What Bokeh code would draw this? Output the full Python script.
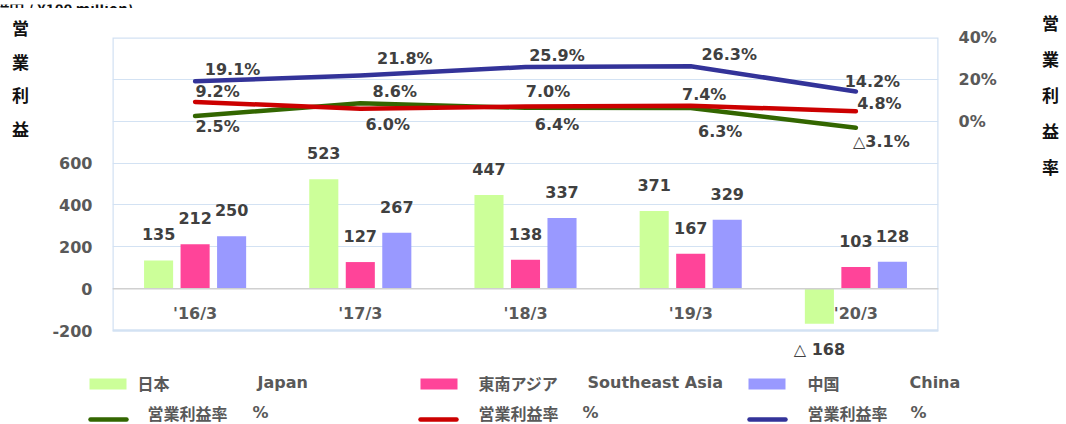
from bokeh.plotting import figure
from bokeh.models import (ColumnDataSource, Range1d, LinearAxis, FixedTicker, LabelSet,
                          Span, PrintfTickFormatter, BoxAnnotation)
from bokeh.transform import dodge
from bokeh.layouts import column, row
from bokeh.embed import file_html
from bokeh.resources import INLINE
from bokeh.core.properties import value

# ---------------- data ----------------
periods = ["'16/3", "'17/3", "'18/3", "'19/3", "'20/3"]
japan_profit = [135, 523, 447, 371, -168]
sea_profit = [212, 127, 138, 167, 103]
china_profit = [250, 267, 337, 329, 128]
japan_margin = [2.5, 8.6, 6.4, 6.3, -3.1]
sea_margin = [9.2, 6.0, 7.0, 7.4, 4.8]
china_margin = [19.1, 21.8, 25.9, 26.3, 14.2]
left_ticks = [-200, 0, 200, 400, 600]
right_ticks = [0, 20, 40]
grid_ticks = [-200, 0, 200, 400, 600, 800, 1000, 1200]
left_title = "営業利益"
right_title = "営業利益率"
unit_note = "(単位：億円 / ¥100 million)"
legend_jp = ["日本", "東南アジア", "中国"]
legend_en = ["Japan", "Southeast Asia", "China"]
legend_line = "営業利益率"

# ---------------- styles / layout constants (pixels) ----------------
C_JP_BAR, C_SEA_BAR, C_CN_BAR = "#ccff99", "#ff4499", "#9999ff"
C_JP_LINE, C_SEA_LINE, C_CN_LINE = "#336600", "#cc0000", "#333399"
TXT_DARK, TXT_AXIS, TXT_TITLE = "#404040", "#595959", "#111111"
GRID_C = "#d3e2f3"
LAT_FONT, JP_FONT = "DejaVu Sans", "Noto Sans CJK JP"

W, H = 1066, 424
TOP_H = 8                # strip with the cut-off unit note
MID_BOTTOM = 364         # bottom of the chart row (canvas y)
LEFT_W, RIGHT_W = 40, 36
FRAME_L, FRAME_R, FRAME_T = 112, 938, 37
Y_AXIS_MIN, Y_AXIS_MAX = -200, 1200
Y_MIN_PX = 330           # canvas y of the -200 line

# label offsets in screen px (x right, y up) for the margin data labels
cn_dx, cn_dy = [37.5, 44.5, 31.5, 38.5, 16.5], [12, 17, 12, 12, 10]
sea_dx, sea_dy = [22.5, 27.5, 22.5, 13.5, 23.5], [10, -16, 15, 11.5, 8]
jp_dx, jp_dy = [22.5, 34.5, 31.5, 29.5, 25.5], [-11, 12, -16.5, -23, -13.5]


def fmt_bar(v):
    return f"{v}" if v >= 0 else f"△ {abs(v)}"


def fmt_pct(v):
    return f"{v:.1f}%" if v >= 0 else f"△{abs(v):.1f}%"


def pixel_fig(x0, x1, y0, y1):
    f = figure(width=x1 - x0, height=y1 - y0, x_range=Range1d(x0, x1), y_range=Range1d(y1, y0),
               output_backend="svg", toolbar_location=None, min_border=0,
               min_border_left=0, min_border_right=0, min_border_top=0, min_border_bottom=0,
               x_axis_location=None, y_axis_location=None)
    f.frame_align = False
    f.grid.visible = False
    f.outline_line_color = None
    f.background_fill_color = "white"
    f.border_fill_color = "white"
    return f


src = ColumnDataSource(dict(
    period=periods,
    japan=japan_profit, sea=sea_profit, china=china_profit,
    japan_m=japan_margin, sea_m=sea_margin, china_m=china_margin,
    japan_t=[fmt_bar(v) for v in japan_profit],
    sea_t=[fmt_bar(v) for v in sea_profit],
    china_t=[fmt_bar(v) for v in china_profit],
    japan_off=[26 if v >= 0 else -26 for v in japan_profit],
    sea_off=[26 if v >= 0 else -26 for v in sea_profit],
    china_off=[26 if v >= 0 else -26 for v in china_profit],
    japan_mt=[fmt_pct(v) for v in japan_margin],
    sea_mt=[fmt_pct(v) for v in sea_margin],
    china_mt=[fmt_pct(v) for v in china_margin],
    cn_dx=cn_dx, cn_dy=cn_dy, sea_dx=sea_dx, sea_dy=sea_dy, jp_dx=jp_dx, jp_dy=jp_dy,
))

# ---------------- main chart ----------------
units_per_px = (Y_AXIS_MAX - Y_AXIS_MIN) / (Y_MIN_PX - FRAME_T)
y_start = Y_AXIS_MIN - (MID_BOTTOM - Y_MIN_PX) * units_per_px
main_w = W - LEFT_W - RIGHT_W
p = figure(width=main_w, height=MID_BOTTOM - TOP_H, x_range=periods,
           y_range=Range1d(y_start, Y_AXIS_MAX),
           output_backend="svg", toolbar_location=None,
           min_border_left=FRAME_L - LEFT_W, min_border_right=(W - RIGHT_W) - FRAME_R,
           min_border_top=FRAME_T - TOP_H, min_border_bottom=0)
p.frame_align = False
# right axis: 0% sits on the 800 line, 20% per 200 units
p.extra_y_ranges = {"pct": Range1d((y_start - 800) / 10, (Y_AXIS_MAX - 800) / 10)}
p.background_fill_color = "white"
p.border_fill_color = "white"
p.outline_line_color = None

p.xaxis.visible = False
p.xgrid.visible = False
p.ygrid.ticker = FixedTicker(ticks=grid_ticks)
p.ygrid.grid_line_color = GRID_C
p.ygrid.grid_line_width = 1.2

p.add_layout(BoxAnnotation(bottom=Y_AXIS_MIN, top=Y_AXIS_MAX, fill_alpha=0, fill_color=None,
                           line_color=GRID_C, line_width=2.5, line_alpha=1))

p.yaxis[0].ticker = FixedTicker(ticks=left_ticks)
p.yaxis[0].formatter = PrintfTickFormatter(format="%d")
right = LinearAxis(y_range_name="pct", ticker=FixedTicker(ticks=right_ticks),
                   formatter=PrintfTickFormatter(format="%d%%"))
p.add_layout(right, "right")
for ax in [p.yaxis[0], right]:
    ax.axis_line_color = None
    ax.major_tick_line_color = None
    ax.minor_tick_line_color = None
    ax.major_tick_out = 0
    ax.major_tick_in = 0
    ax.major_label_standoff = 20
    ax.major_label_text_font = LAT_FONT
    ax.major_label_text_font_style = "bold"
    ax.major_label_text_font_size = "16px"
    ax.major_label_text_color = TXT_AXIS

p.add_layout(Span(location=0, dimension="width", line_color="#d0d0d0", line_width=1.5))

bw, off = 0.176, 0.221
p.vbar(x=dodge("period", -off, range=p.x_range), top="japan", width=bw, source=src,
       fill_color=C_JP_BAR, line_color=None)
p.vbar(x=dodge("period", 0, range=p.x_range), top="sea", width=bw, source=src,
       fill_color=C_SEA_BAR, line_color=None)
p.vbar(x=dodge("period", off, range=p.x_range), top="china", width=bw, source=src,
       fill_color=C_CN_BAR, line_color=None)

for col, c in [("japan_m", C_JP_LINE), ("sea_m", C_SEA_LINE), ("china_m", C_CN_LINE)]:
    p.line(x="period", y=col, y_range_name="pct", source=src, line_color=c,
           line_width=4.5, line_cap="round", line_join="round")

lbl_style = dict(text_font=value(LAT_FONT), text_font_style="bold", text_font_size="16px",
                 text_color=TXT_DARK, text_align="center", text_baseline="middle")

for col, txt, offc, d in [("japan", "japan_t", "japan_off", -off), ("sea", "sea_t", "sea_off", 0),
                          ("china", "china_t", "china_off", off)]:
    p.add_layout(LabelSet(x=dodge("period", d, range=p.x_range), y=col, text=txt,
                          y_offset=offc, source=src, **lbl_style))

for col, txt, dx, dy in [("china_m", "china_mt", "cn_dx", "cn_dy"),
                         ("sea_m", "sea_mt", "sea_dx", "sea_dy"),
                         ("japan_m", "japan_mt", "jp_dx", "jp_dy")]:
    p.add_layout(LabelSet(x="period", y=col, text=txt, x_offset=dx, y_offset=dy,
                          y_range_name="pct", source=src, **lbl_style))

cat_style = dict(lbl_style)
cat_style["text_color"] = TXT_AXIS
p.add_layout(LabelSet(x="period", y=value(0), text="period", y_offset=-25, source=src, **cat_style))

# ---------------- side strips with the vertical axis titles ----------------
title_style = dict(text_font=value(JP_FONT), text_font_style="bold", text_font_size="17px",
                   text_color=TXT_TITLE, text_align="center", text_baseline="middle")
lf = pixel_fig(0, LEFT_W, TOP_H, MID_BOTTOM)
lf.text(x=[20] * len(left_title), y=[27 + i * 33.7 for i in range(len(left_title))],
        text=list(left_title), **title_style)
rf = pixel_fig(W - RIGHT_W, W, TOP_H, MID_BOTTOM)
rf.text(x=[1050] * len(right_title), y=[22 + i * 36 for i in range(len(right_title))],
        text=list(right_title), **title_style)

# ---------------- top strip with the (cut-off) unit note ----------------
tf = pixel_fig(0, W, 0, TOP_H)
tf.text(x=[133], y=[4], text=[unit_note], text_font=value(JP_FONT), text_font_style="bold",
        text_font_size="15px", text_color=TXT_TITLE, text_align="right", text_baseline="alphabetic")

# ---------------- legend ----------------
lg = pixel_fig(0, W, MID_BOTTOM, H)
sw_left = [89, 420, 748]
lg.quad(left=sw_left, right=[x + 37 for x in sw_left], top=[378] * 3, bottom=[389] * 3,
        fill_color=[C_JP_BAR, C_SEA_BAR, C_CN_BAR], line_color=None)
ln_left = [88, 418, 747]
for x0, c in zip(ln_left, [C_JP_LINE, C_SEA_LINE, C_CN_LINE]):
    lg.line(x=[x0 + 2, x0 + 38], y=[419, 419], line_color=c, line_width=4.5, line_cap="round")

txt_row = dict(text_font_style="bold", text_font_size="16px", text_color=TXT_AXIS,
               text_baseline="middle", text_align="left")
lg.text(x=[137, 478, 807], y=[382] * 3, text=legend_jp, text_font=value(JP_FONT), **txt_row)
lg.text(x=[257, 587, 909], y=[382] * 3, text=legend_en, text_font=value(LAT_FONT), **txt_row)
lg.text(x=[147, 478, 807], y=[412] * 3, text=[legend_line] * 3, text_font=value(JP_FONT), **txt_row)
lg.text(x=[252, 582, 910], y=[412] * 3, text=["%"] * 3, text_font=value(LAT_FONT), **txt_row)

layout = column(tf, row(lf, p, rf, spacing=0), lg, spacing=0)
open("out.html", "w").write(file_html(layout, INLINE))
